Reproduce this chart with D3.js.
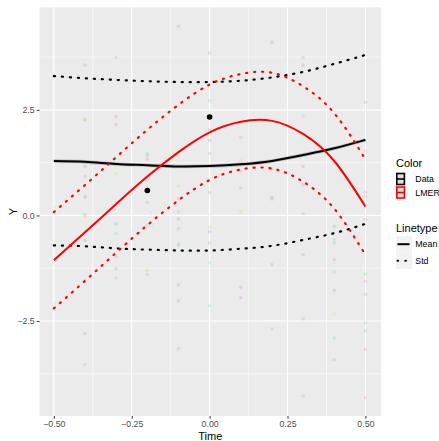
<!DOCTYPE html>
<html>
<head>
<meta charset="utf-8">
<script src="https://cdn.jsdelivr.net/npm/d3@7"></script>
<style>
  body { margin: 0; background: #fff; }
  svg { display: block; font-family: "Liberation Sans", Arial, sans-serif; }
</style>
</head>
<body>
<svg id="chart" width="439" height="441"></svg>
<script>
// curves, read at each 0.1 of Time
var timeGrid  = [-0.5, -0.4, -0.3, -0.2, -0.1, 0, 0.1, 0.2, 0.3, 0.4, 0.5];
var dataMean  = [1.29, 1.27, 1.22, 1.19, 1.16, 1.17, 1.21, 1.29, 1.43, 1.59, 1.79];
var dataUpper = [3.30, 3.25, 3.21, 3.18, 3.16, 3.16, 3.19, 3.27, 3.40, 3.59, 3.80];
var dataLower = [-0.71, -0.73, -0.78, -0.81, -0.83, -0.83, -0.79, -0.72, -0.58, -0.42, -0.20];
var lmerMean  = [-1.06, -0.40, 0.27, 0.92, 1.50, 1.97, 2.22, 2.24, 1.93, 1.29, 0.21];
var lmerUpper = [0.08, 0.72, 1.38, 2.03, 2.62, 3.10, 3.35, 3.38, 3.06, 2.42, 1.33];
var lmerLower = [-2.20, -1.55, -0.88, -0.23, 0.36, 0.84, 1.09, 1.11, 0.80, 0.16, -0.93];

// black data points
var dotTime  = [-0.2, 0];
var dotValue = [0.59, 2.33];

// faint subject observations
var obsTime = [
  -0.4, -0.4, -0.4, -0.4, -0.4, -0.4, -0.4, -0.4, -0.4, -0.4, -0.4, -0.4,
  -0.3, -0.3, -0.3, -0.3, -0.3, -0.3, -0.3, -0.3, -0.3,
  -0.2, -0.2, -0.2, -0.2, -0.2, -0.2, -0.2, -0.2,
  -0.1, -0.1, -0.1, -0.1, -0.1, -0.1, -0.1, -0.1, -0.1, -0.1, -0.1,
  0, 0, 0, 0, 0, 0, 0, 0, 0, 0, 0,
  0.1, 0.1, 0.1, 0.1, 0.1, 0.1, 0.1,
  0.2, 0.2, 0.2, 0.2, 0.2, 0.2,
  0.3, 0.3, 0.3, 0.3, 0.3, 0.3, 0.3, 0.3, 0.3,
  0.4, 0.4, 0.4, 0.4, 0.4, 0.4, 0.4, 0.4, 0.4,
  0.5, 0.5, 0.5, 0.5, 0.5, 0.5, 0.5, 0.5, 0.5, 0.5, 0.5, 0.5
];
var obsValue = [
  3.56, 2.28, 2.25, 1.16, 0.92, 0.47, 0.43, 0.02, -0.02, -0.59, -2.80, -3.53,
  3.74, 2.34, 2.15, 0.99, -0.20, -0.43, -0.97, -1.26, -1.48,
  1.47, 1.41, 1.33, 0.84, 0.31, -0.24, -1.30, -1.40,
  4.48, 0.69, 0.39, 0.08, -0.08, -0.31, -0.67, -0.71, -1.64, -2.02, -3.15,
  3.85, 2.72, 2.03, 1.78, 1.47, 0.54, -0.28, -0.39, -0.65, -1.12, -2.14,
  1.85, 1.30, 1.06, 0.65, 0.09, -1.70, -1.95,
  4.10, 1.10, 0.43, 0.39, -1.17, -2.69,
  3.74, 3.56, 2.36, 1.16, 0.73, 0.04, -0.93, -2.45, -4.28,
  -0.26, -0.57, -0.65, -1.05, -1.34, -1.77, -2.33, -2.90, -3.42,
  2.68, 1.54, 0.55, 0.45, -0.09, -1.39, -1.56, -1.87, -2.55, -2.73, -3.17, -4.32
];
var obsGroup = [
  'p', 'gr', 'y', 'g', 'g', 'y', 'p', 'b', 'y', 'g', 'g', 'gr',
  'gr', 'p', 'p', 'y', 'b', 'c', 'p', 'p', 'gr',
  'c', 'gr', 'p', 'p', 'c', 'c', 'y', 'gr',
  'g', 'y', 'b', 'gr', 'g', 'p', 'gr', 'c', 'g', 'b', 'p',
  'g', 'c', 'p', 'p', 'gr', 'b', 'y', 'b', 'g', 'c', 'c',
  'gr', 'y', 'p', 'p', 'y', 'p', 'p',
  'p', 'p', 'g', 'b', 'p', 'c',
  'g', 'p', 'c', 'p', 'p', 'gr', 'b', 'gr', 'g',
  'b', 'c', 'gr', 'p', 'c', 'g', 'y', 'c', 'g',
  'b', 'y', 'p', 'b', 'p', 'gr', 'p', 'b', 'gr', 'g', 'p', 'p'
];

var xTicks = [-0.5, -0.25, 0, 0.25, 0.5];
var xMinor = [-0.375, -0.125, 0.125, 0.375];
var yTicks = [-2.5, 0, 2.5];
var yMinor = [-3.75, -1.25, 1.25, 3.75];

var colorLabels = ['Data', 'LMER'];
var linetypeLabels = ['Mean', 'Std'];

(function() {
  'use strict';

  var groupColor = {g: '#7a7a7a', p: '#d040d0', b: '#3a7ad8', gr: '#30c030', y: '#e0c000', c: '#20c8d8'};
  var panel = {left: 39.5, right: 381, top: 7.3, bottom: 416};

  var svg = d3.select('#chart');

  var x = d3.scaleLinear().domain([-0.546, 0.55]).range([panel.left, panel.right]);
  var y = d3.scaleLinear().domain([-4.75, 4.93]).range([panel.bottom, panel.top]);

  // panel + grid
  svg.append('rect')
    .attr('x', panel.left).attr('y', panel.top)
    .attr('width', panel.right - panel.left).attr('height', panel.bottom - panel.top)
    .attr('fill', '#ebebeb');

  var grid = svg.append('g').attr('stroke', '#fff');
  grid.selectAll('.xminor').data(xMinor).enter().append('line')
    .attr('x1', x).attr('x2', x).attr('y1', panel.top).attr('y2', panel.bottom)
    .attr('stroke-width', 0.55);
  grid.selectAll('.yminor').data(yMinor).enter().append('line')
    .attr('y1', y).attr('y2', y).attr('x1', panel.left).attr('x2', panel.right)
    .attr('stroke-width', 0.55);
  grid.selectAll('.xmajor').data(xTicks).enter().append('line')
    .attr('x1', x).attr('x2', x).attr('y1', panel.top).attr('y2', panel.bottom)
    .attr('stroke-width', 1.1);
  grid.selectAll('.ymajor').data(yTicks).enter().append('line')
    .attr('y1', y).attr('y2', y).attr('x1', panel.left).attr('x2', panel.right)
    .attr('stroke-width', 1.1);

  // faint observations
  svg.append('g').selectAll('circle')
    .data(obsTime.map(function(t, i) { return {t: t, v: obsValue[i], g: obsGroup[i]}; }))
    .enter().append('circle')
    .attr('cx', function(d) { return x(d.t); })
    .attr('cy', function(d) { return y(d.v); })
    .attr('r', 1.8)
    .attr('fill', function(d) { return groupColor[d.g]; })
    .attr('fill-opacity', 0.16);

  var line = d3.line()
    .x(function(d) { return x(d[0]); })
    .y(function(d) { return y(d[1]); })
    .curve(d3.curveNatural);
  function pts(vals) {
    return timeGrid.map(function(t, i) { return [t, vals[i]]; });
  }
  var dotted = '1.2,6.8';

  // data lines
  svg.append('path').attr('d', line(pts(dataMean)))
    .attr('fill', 'none').attr('stroke', '#9a9a9a').attr('stroke-opacity', 0.6).attr('stroke-width', 3.6);
  svg.append('path').attr('d', line(pts(dataMean)))
    .attr('fill', 'none').attr('stroke', '#000').attr('stroke-width', 2);
  [dataUpper, dataLower].forEach(function(vals) {
    svg.append('path').attr('d', line(pts(vals)))
      .attr('fill', 'none').attr('stroke', '#000').attr('stroke-width', 2.2)
      .attr('stroke-dasharray', dotted).attr('stroke-linecap', 'round');
  });

  // lmer lines
  svg.append('path').attr('d', line(pts(lmerMean)))
    .attr('fill', 'none').attr('stroke', '#f00').attr('stroke-width', 2);
  [lmerUpper, lmerLower].forEach(function(vals) {
    svg.append('path').attr('d', line(pts(vals)))
      .attr('fill', 'none').attr('stroke', '#f00').attr('stroke-width', 2.2)
      .attr('stroke-dasharray', dotted).attr('stroke-linecap', 'round');
  });

  // mean data points
  svg.append('g').selectAll('circle')
    .data(dotTime.map(function(t, i) { return [t, dotValue[i]]; }))
    .enter().append('circle')
    .attr('cx', function(d) { return x(d[0]); })
    .attr('cy', function(d) { return y(d[1]); })
    .attr('r', 2.8)
    .attr('fill', '#000');

  // axes
  var xAxis = d3.axisBottom(x).tickValues(xTicks).tickSize(2.75).tickPadding(2)
    .tickFormat(d3.format('.2f'));
  var gx = svg.append('g').attr('transform', 'translate(0,' + panel.bottom + ')').call(xAxis);
  var yAxis = d3.axisLeft(y).tickValues(yTicks).tickSize(2.75).tickPadding(2)
    .tickFormat(d3.format('.1f'));
  var gy = svg.append('g').attr('transform', 'translate(' + panel.left + ',0)').call(yAxis);
  [gx, gy].forEach(function(g) {
    g.select('.domain').remove();
    g.selectAll('.tick line').attr('stroke', '#333').attr('stroke-width', 1);
    g.selectAll('.tick text').attr('fill', '#4d4d4d')
      .style('font-size', '8.8px').style('font-family', '"Liberation Sans", Arial, sans-serif');
  });

  svg.append('text')
    .attr('x', (panel.left + panel.right) / 2).attr('y', 440)
    .attr('text-anchor', 'middle').style('font-size', '11px')
    .text('Time');
  svg.append('text')
    .attr('transform', 'translate(17,' + ((panel.top + panel.bottom) / 2) + ') rotate(-90)')
    .attr('text-anchor', 'middle').style('font-size', '11px')
    .text('Y');

  // legend: Color
  var lg = svg.append('g');
  lg.append('text').attr('x', 396).attr('y', 167).style('font-size', '11px').text('Color');
  var colorStroke = ['#000', '#f00'];
  colorLabels.forEach(function(label, i) {
    var top = 173.5 + i * 13.5;
    lg.append('rect').attr('x', 396.8).attr('y', top)
      .attr('width', 7.6).attr('height', 11)
      .attr('fill', '#dedede').attr('stroke', colorStroke[i]).attr('stroke-width', 1.6);
    lg.append('line').attr('x1', 396.8).attr('x2', 404.4)
      .attr('y1', top + 5.5).attr('y2', top + 5.5)
      .attr('stroke', colorStroke[i]).attr('stroke-width', 1.6);
    lg.append('text').attr('x', 415.3).attr('y', top + 8.7)
      .style('font-size', '8.8px').text(label);
  });

  // legend: Linetype
  lg.append('text').attr('x', 396).attr('y', 231.5).style('font-size', '11px').text('Linetype');
  linetypeLabels.forEach(function(label, i) {
    var top = 236 + i * 16.5;
    lg.append('rect').attr('x', 396).attr('y', top)
      .attr('width', 16).attr('height', 16.5).attr('fill', '#f2f2f2');
    lg.append('line').attr('x1', 397.5).attr('x2', 409.5)
      .attr('y1', top + 8.2).attr('y2', top + 8.2)
      .attr('stroke', '#000').attr('stroke-width', 2)
      .attr('stroke-dasharray', i === 1 ? '0.6,7.2' : null)
      .attr('stroke-linecap', i === 1 ? 'round' : 'butt');
    lg.append('text').attr('x', 415.3).attr('y', top + 11.3)
      .style('font-size', '8.8px').text(label);
  });
}());
</script>
</body>
</html>
